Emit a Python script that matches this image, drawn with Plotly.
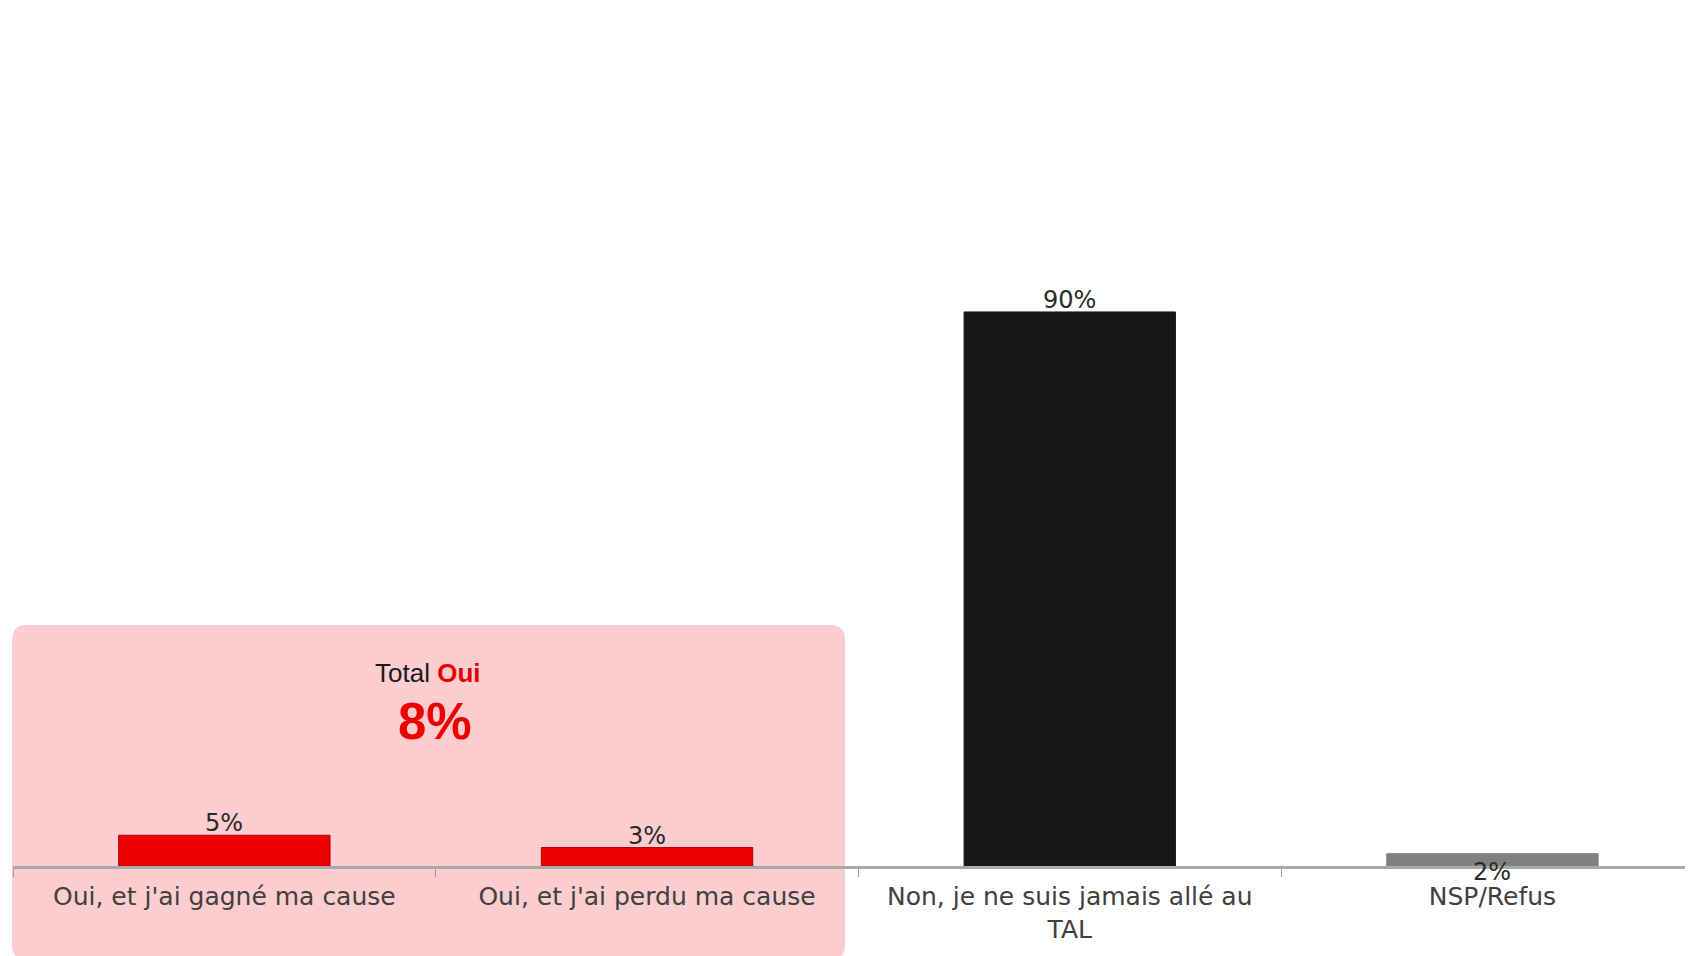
import plotly.graph_objects as go

categories = [
    "Oui, et j'ai gagné ma cause",
    "Oui, et j'ai perdu ma cause",
    "Non, je ne suis jamais allé au<br>TAL",
    "NSP/Refus",
]
values = [5, 3, 90, 2]
bar_colors = ["#EE0000", "#EE0000", "#171719", "#808080"]
line_colors = ["#B00000", "#B00000", "#171719", "#808080"]
value_labels = [f"{v}%" for v in values]
oui_total = values[0] + values[1]

OFF = 8  # page body margin
W, H = 1693 - OFF, 956 - OFF
ML = 13 - OFF
plot_h = 867 - OFF - 1
MB = H - plot_h
plot_w = W - ML
cat_px = 422.7
px_per_pct = 6.156

LABEL_FONT = "DejaVu Sans, Verdana, sans-serif"
ARIAL = "Liberation Sans, Arial, sans-serif"

fig = go.Figure()
fig.add_trace(go.Bar(
    x=categories,
    y=values,
    width=0.5,
    marker=dict(color=bar_colors, line=dict(color=line_colors, width=1)),
    hoverinfo="skip",
))

# value labels: on top of bars, except NSP which sits on the axis line
for i, (cat, v, lab) in enumerate(zip(categories, values, value_labels)):
    if i < 3:
        fig.add_annotation(
            x=cat, y=v, xref="x", yref="y", text=lab, showarrow=False,
            yanchor="bottom", yshift=-4,
            font=dict(family=LABEL_FONT, size=24, color="#2a2a2a"),
        )
    else:
        fig.add_annotation(
            x=cat, y=0, xref="x", yref="y", text=lab, showarrow=False,
            yanchor="middle", yshift=-6,
            font=dict(family=LABEL_FONT, size=24, color="#2a2a2a"),
        )

def px_x(p):
    return (p - OFF - ML) / plot_w

def px_y(p):
    return (plot_h - (p - OFF)) / plot_h

x0, x1 = px_x(12), px_x(845)
y0, y1 = px_y(960), px_y(625)
rx, ry = 15 / plot_w, 15 / plot_h
path = (
    f"M {x0+rx},{y1} L {x1-rx},{y1} Q {x1},{y1} {x1},{y1-ry} "
    f"L {x1},{y0+ry} Q {x1},{y0} {x1-rx},{y0} "
    f"L {x0+rx},{y0} Q {x0},{y0} {x0},{y0+ry} "
    f"L {x0},{y1-ry} Q {x0},{y1} {x0+rx},{y1} Z"
)
fig.add_shape(type="path", path=path, xref="paper", yref="paper",
              fillcolor="#FBCDCF", line=dict(width=0), layer="below")

fig.add_annotation(
    x=px_x(428), y=px_y(673), xref="paper", yref="paper",
    text="Total <b><span style='color:#E60000'>Oui</span></b>",
    showarrow=False, xanchor="center", yanchor="middle",
    font=dict(family=ARIAL, size=26, color="#1a1a1a"),
)
fig.add_annotation(
    x=px_x(435), y=px_y(721), xref="paper", yref="paper",
    text=f"<b>{oui_total}%</b>",
    showarrow=False, xanchor="center", yanchor="middle",
    font=dict(family=ARIAL, size=51, color="#EE0000"),
)

fig.update_layout(
    width=W, height=H,
    margin=dict(l=ML, r=0, t=0, b=MB, pad=0),
    paper_bgcolor="white",
    plot_bgcolor="rgba(0,0,0,0)",
    showlegend=False,
)
fig.update_xaxes(
    type="category",
    range=[-0.5, -0.5 + plot_w / cat_px],
    showline=True, linecolor="#A8A8A8", linewidth=3,
    ticks="outside", tickson="boundaries", ticklen=8, tickwidth=1, tickcolor="#999999",
    ticklabelstandoff=6,
    tickfont=dict(family=LABEL_FONT, size=25, color="#404040"),
    showgrid=False, zeroline=False,
)
fig.update_yaxes(
    range=[0, plot_h / px_per_pct],
    visible=False, showgrid=False, zeroline=False,
)

fig.write_html("out.html")
